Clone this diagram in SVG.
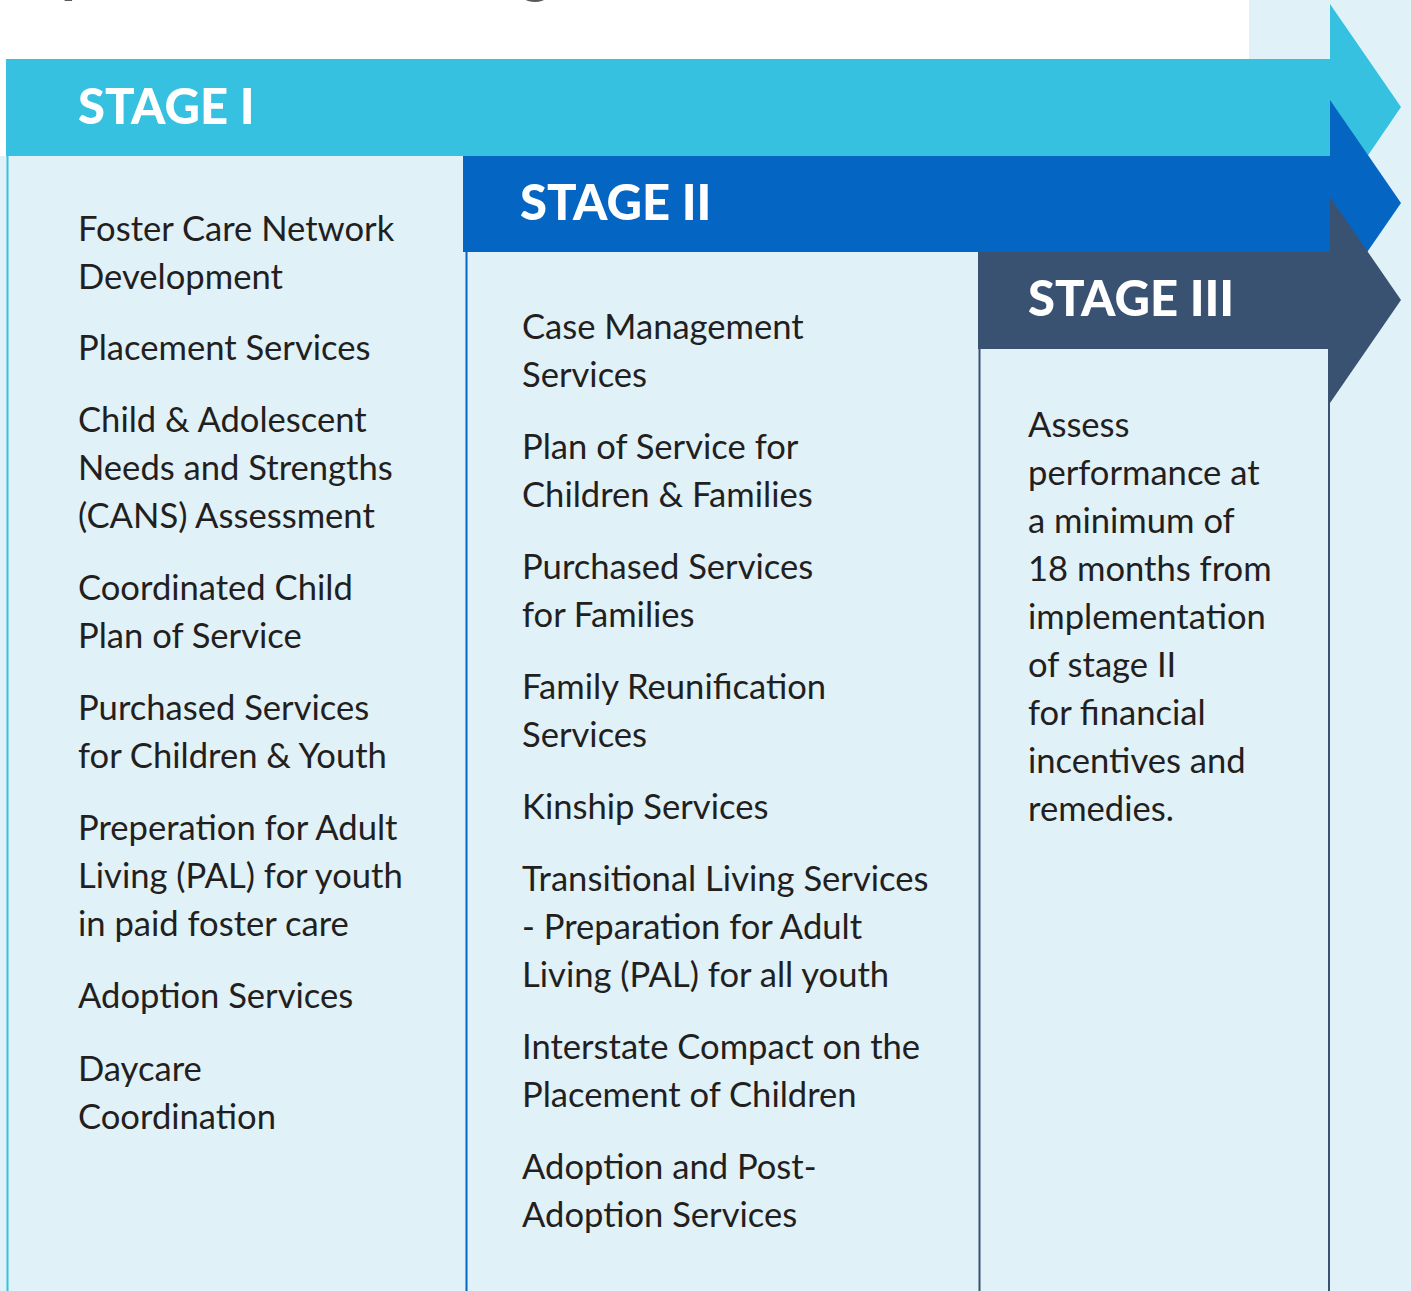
<svg xmlns="http://www.w3.org/2000/svg" width="1411" height="1291" viewBox="0 0 1411 1291">
<style>
.item{font-family:Lato,"Noto Sans",sans-serif;font-size:34.6px;fill:#231f20;}
.head{font-family:Lato,"Noto Sans",sans-serif;font-size:49px;font-weight:900;fill:#ffffff;}
.frag{font-family:Lato,"Noto Sans",sans-serif;font-size:60px;font-weight:700;fill:#58595b;}
</style>
<rect x="0" y="0" width="1411" height="1291" fill="#e0f1f8"/>
<rect x="0" y="0" width="1249" height="59" fill="#ffffff"/>
<rect x="0" y="0" width="6" height="156" fill="#ffffff"/>
<text class="frag" x="61" y="-9">p</text>
<text class="frag" x="520" y="-9">g</text>

<g id="stage1">
  <path d="M6 59 H1330 V4 L1401 107 L1330 211 V156 H6 Z" fill="#36c1e0"/>
  <line x1="7.5" y1="156" x2="7.5" y2="1291" stroke="#36c1e0" stroke-width="2"/>
  <text class="head" x="78" y="124">STAGE I</text>
  <text class="item" x="78" y="241">Foster Care Network</text>
  <text class="item" x="78" y="289">Development</text>
  <text class="item" x="78" y="360">Placement Services</text>
  <text class="item" x="78" y="432">Child &amp; Adolescent</text>
  <text class="item" x="78" y="480">Needs and Strengths</text>
  <text class="item" x="78" y="528">(CANS) Assessment</text>
  <text class="item" x="78" y="600">Coordinated Child</text>
  <text class="item" x="78" y="648">Plan of Service</text>
  <text class="item" x="78" y="720">Purchased Services</text>
  <text class="item" x="78" y="768">for Children &amp; Youth</text>
  <text class="item" x="78" y="840">Preperation for Adult</text>
  <text class="item" x="78" y="888">Living (PAL) for youth</text>
  <text class="item" x="78" y="936">in paid foster care</text>
  <text class="item" x="78" y="1008">Adoption Services</text>
  <text class="item" x="78" y="1081">Daycare</text>
  <text class="item" x="78" y="1129">Coordination</text>
</g>

<g id="stage2">
  <path d="M463 156 H1330 V100 L1401 203 L1330 306 V252 H463 Z" fill="#0565c2"/>
  <line x1="466.5" y1="252" x2="466.5" y2="1291" stroke="#0565c2" stroke-width="2"/>
  <text class="head" x="520" y="220">STAGE II</text>
  <text class="item" x="522" y="339">Case Management</text>
  <text class="item" x="522" y="387">Services</text>
  <text class="item" x="522" y="459">Plan of Service for</text>
  <text class="item" x="522" y="507">Children &amp; Families</text>
  <text class="item" x="522" y="579">Purchased Services</text>
  <text class="item" x="522" y="627">for Families</text>
  <text class="item" x="522" y="699">Family Reunification</text>
  <text class="item" x="522" y="747">Services</text>
  <text class="item" x="522" y="819">Kinship Services</text>
  <text class="item" x="522" y="891">Transitional Living Services</text>
  <text class="item" x="522" y="939">- Preparation for Adult</text>
  <text class="item" x="522" y="987">Living (PAL) for all youth</text>
  <text class="item" x="522" y="1059">Interstate Compact on the</text>
  <text class="item" x="522" y="1107">Placement of Children</text>
  <text class="item" x="522" y="1179">Adoption and Post-</text>
  <text class="item" x="522" y="1227">Adoption Services</text>
</g>

<g id="stage3">
  <path d="M978 252 H1330 V197 L1401 300 L1330 403 V349 H978 Z" fill="#3a5272"/>
  <line x1="979.5" y1="349" x2="979.5" y2="1291" stroke="#3a5272" stroke-width="2"/>
  <line x1="1329" y1="349" x2="1329" y2="1291" stroke="#3a5272" stroke-width="2"/>
  <text class="head" x="1028" y="316">STAGE III</text>
  <text class="item" x="1028" y="437">Assess</text>
  <text class="item" x="1028" y="485">performance at</text>
  <text class="item" x="1028" y="533">a minimum of</text>
  <text class="item" x="1028" y="581">18 months from</text>
  <text class="item" x="1028" y="629">implementation</text>
  <text class="item" x="1028" y="677">of stage II</text>
  <text class="item" x="1028" y="725">for financial</text>
  <text class="item" x="1028" y="773">incentives and</text>
  <text class="item" x="1028" y="821">remedies.</text>
</g>
</svg>
